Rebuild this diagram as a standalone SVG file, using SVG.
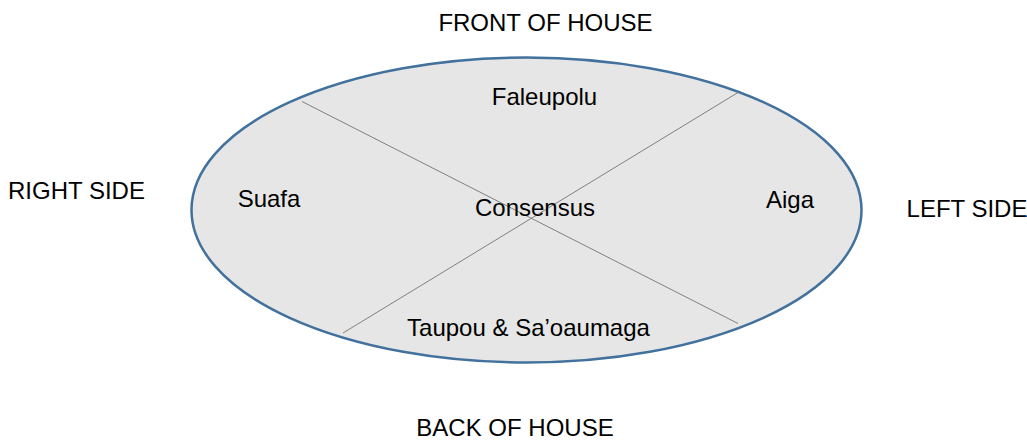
<svg xmlns="http://www.w3.org/2000/svg" width="1027" height="442" viewBox="0 0 1027 442">
<style>
text { font-family: "Liberation Sans", Arial, sans-serif; font-size: 24px; fill: #000; text-anchor: middle; }
.div { stroke: #808080; stroke-width: 1; }
</style>
<rect width="1027" height="442" fill="#ffffff"/>
<g id="house">
<ellipse cx="526.5" cy="210" rx="335" ry="152.5" fill="#e6e6e6" stroke="#41719c" stroke-width="2.5"/>
</g>
<g id="connectors">
<line class="div" x1="302" y1="101.5" x2="738" y2="323.5"/>
<line class="div" x1="738" y1="92.5" x2="343" y2="333"/>
</g>
<g id="front"><text x="545.5" y="31">FRONT OF HOUSE</text></g>
<g id="back"><text x="515" y="436">BACK OF HOUSE</text></g>
<g id="right"><text x="76.5" y="199">RIGHT SIDE</text></g>
<g id="left"><text x="967" y="217">LEFT SIDE</text></g>
<g id="faleupolu"><text x="544.5" y="105">Faleupolu</text></g>
<g id="suafa"><text x="269" y="206.5">Suafa</text></g>
<g id="aiga"><text x="790" y="207.5">Aiga</text></g>
<g id="consensus"><text x="535" y="216">Consensus</text></g>
<g id="taupou"><text x="528.5" y="336">Taupou &amp; Sa’oaumaga</text></g>
</svg>
